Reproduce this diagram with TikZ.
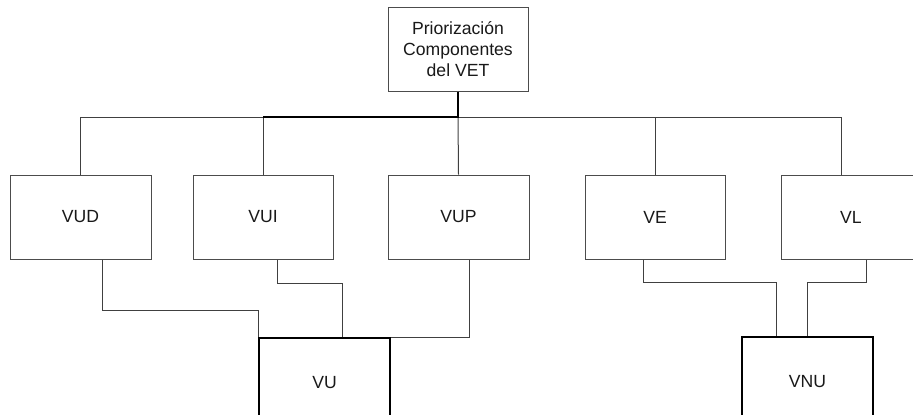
\documentclass[tikz,border=0pt]{standalone}
\usepackage{fontspec}
\setmainfont{Liberation Sans}
\usetikzlibrary{calc}
\tikzset{
	box/.style={draw=black!70, line width=0.75pt, fill=white, inner sep=0pt, minimum width=105pt, minimum height=63pt, align=center, text=black!90, font=\fontsize{13.2}{16}\selectfont},
	bigbox/.style={box, draw=black, line width=1.5pt, minimum width=98.25pt, minimum height=67.5pt},
	wire/.style={draw=black!75, line width=0.75pt},
	thickwire/.style={draw=black, line width=1.5pt}
}

\begin{document}
\begin{tikzpicture}[x=0.75pt, y=-0.75pt]
			%%%%% START %%%%%
			\useasboundingbox (0, 0) rectangle (913, 414);
			
			\node[box] (top) at (458, 49) {Priorización\\Componentes\\del VET};
			\coordinate (bar) at (458, 117);
			
			\node[box, minimum width=105.75pt] (vud) at (80.5, 217) {VUD};
			\node[box] (vui) at (263, 217) {VUI};
			\node[box, minimum width=105.75pt] (vup) at (458.5, 217) {VUP};
			\node[box] (ve) at (655, 217) {VE};
			\node[box] (vl) at (851, 217) {VL};
			
			\node[bigbox] (vu) at (324.5, 383) {VU};
			\node[bigbox] (vnu) at (807.5, 382) {VNU};
			
			\draw[wire] (bar) -| (vud.north);
			\draw[wire] (bar) -| (vui.north);
			\draw[wire] (bar) -- (vup.north);
			\draw[wire] (bar) -| (ve.north);
			\draw[wire] (bar) -| ($(vl.north)+(-10, 0)$);
			\draw[thickwire] (top.south) -- (bar) -- (vui.north |- bar);
			
			\draw[wire] ($(vud.south)+(21.5, 0)$) |- ($(vu.north west)+(0, -27)$) -- (vu.north west);
			\draw[wire] ($(vui.south)+(14, 0)$) |- ($(vu.north)+(17.5, -54)$) -- ($(vu.north)+(17.5, 0)$);
			\draw[wire] ($(vup.south)+(10.5, 0)$) |- (vu.north east);
			
			\draw[wire] ($(ve.south)+(-12, 0)$) |- ($(vnu.north)+(-31.5, -54)$) -- ($(vnu.north)+(-31.5, 0)$);
			\draw[wire] ($(vl.south)+(15, 0)$) |- ($(vnu.north)+(0, -54)$) -- (vnu.north);
			%%%%% END %%%%%
\end{tikzpicture}
\end{document}
